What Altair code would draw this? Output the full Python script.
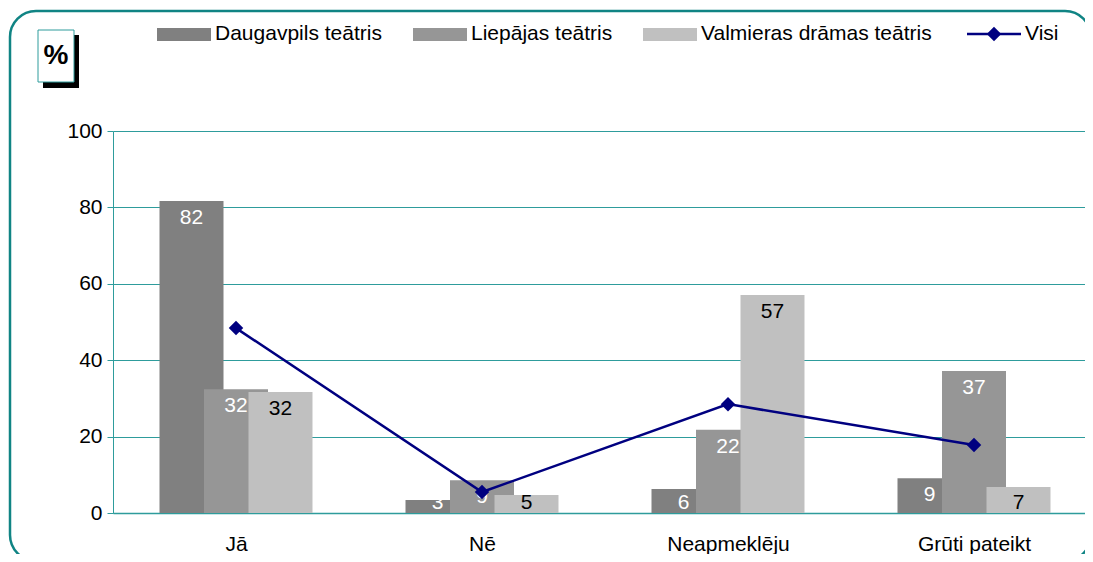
import altair as alt
import pandas as pd

categories = ["Jā", "Nē", "Neapmeklēju", "Grūti pateikt"]
series = ["Daugavpils teātris", "Liepājas teātris", "Valmieras drāmas teātris"]
daugavpils = [81.7, 3.4, 6.3, 9.1]
liepaja = [32.4, 8.6, 21.8, 37.2]
valmiera = [31.7, 4.7, 57.1, 6.8]
visi = [48.4, 5.5, 28.5, 17.8]
line_name = "Visi"
y_ticks = [0, 20, 40, 60, 80, 100]

bar_colors = ["#808080", "#969696", "#C0C0C0"]
label_colors = ["#FFFFFF", "#FFFFFF", "#000000"]
LINE = "#000080"
TEAL = "#2E9C9C"
FRAME = "#108484"
FONT = "Liberation Sans"
FS = 21

rows = []
for si, (name, vals) in enumerate(zip(series, [daugavpils, liepaja, valmiera])):
    for ci, (cat, v) in enumerate(zip(categories, vals)):
        rows.append({"category": cat, "ci": ci, "series": name, "si": si, "value": v})
bars_df = pd.DataFrame(rows)
line_df = pd.DataFrame({"category": categories, "ci": list(range(len(categories))), "value": visi})

BAND = 246.0
PLOT_W = 972
X_DOMAIN = [0, PLOT_W / BAND]
OFF = 44.5 / BAND
HALF = 32.0 / BAND

cat_js = "[" + ",".join("'" + c + "'" for c in categories) + "]"
x_axis = alt.Axis(values=[i + 0.5 for i in range(len(categories))],
                  labelExpr=cat_js + "[floor(datum.value)]",
                  ticks=False, grid=False, domainColor=TEAL, domainWidth=1.5,
                  labelFontSize=FS, labelFont=FONT, labelColor="#000", labelPadding=20, title=None)
x_scale = alt.Scale(domain=X_DOMAIN, nice=False, zero=False, padding=0)
y_scale = alt.Scale(domain=[0, 100], nice=False, padding=0)
y_axis = alt.Axis(values=y_ticks, grid=True, gridColor=TEAL, gridWidth=1, tickColor=TEAL, tickSize=6,
                  domainColor=TEAL, labelFontSize=FS, labelFont=FONT, labelColor="#000",
                  labelPadding=5, title=None)

base = alt.Chart(bars_df).transform_calculate(
    xs="datum.ci + 0.5 + (datum.si - 1) * %f - %f" % (OFF, HALF),
    xe="datum.ci + 0.5 + (datum.si - 1) * %f + %f" % (OFF, HALF),
    xc="datum.ci + 0.5 + (datum.si - 1) * %f" % OFF,
    ly="max(datum.value - 4.5, 2.5)",
)

bars = base.mark_bar(orient="vertical").encode(
    x=alt.X("xs:Q", scale=x_scale, axis=x_axis),
    x2="xe:Q",
    y=alt.Y("value:Q", scale=y_scale, axis=y_axis),
    y2=alt.datum(0),
    color=alt.Color("series:N", scale=alt.Scale(domain=series, range=bar_colors), legend=None),
)

labels = base.mark_text(font=FONT, fontSize=FS, baseline="middle", align="center").encode(
    x=alt.X("xc:Q", scale=x_scale),
    y=alt.Y("ly:Q", scale=y_scale),
    text=alt.Text("value:Q", format=".0f"),
    color=alt.Color("series:N", scale=alt.Scale(domain=series, range=label_colors), legend=None),
)

lc = alt.Chart(line_df).transform_calculate(xc="datum.ci + 0.5")
line = lc.mark_line(color=LINE, strokeWidth=2.5).encode(
    x=alt.X("xc:Q", scale=x_scale), y=alt.Y("value:Q", scale=y_scale))
pts = lc.mark_point(shape="diamond", filled=True, color=LINE, size=210, opacity=1).encode(
    x=alt.X("xc:Q", scale=x_scale), y=alt.Y("value:Q", scale=y_scale))

one = pd.DataFrame({"k": [0]})

frame = alt.Chart(one).mark_rect(fill=None, filled=False, stroke=FRAME, strokeWidth=2.5, cornerRadius=26).encode(
    x=alt.value(-103), x2=alt.value(978), y=alt.value(-120), y2=alt.value(430))

shadow = alt.Chart(one).mark_rect(color="#000000").encode(
    x=alt.value(-70), x2=alt.value(-34), y=alt.value(-96), y2=alt.value(-43))
box = alt.Chart(one).mark_rect(fill="#FFFFFF", stroke=TEAL, strokeWidth=1).encode(
    x=alt.value(-75), x2=alt.value(-39), y=alt.value(-101), y2=alt.value(-49))
pct = alt.Chart(one).mark_text(text="%", font=FONT, fontSize=28, fontWeight="bold",
                               align="center", baseline="middle", color="#000").encode(
    x=alt.value(-57), y=alt.value(-75))

legend_layers = []
sw_x = [44, 300, 530]
for name, col, x0 in zip(series, bar_colors, sw_x):
    legend_layers.append(alt.Chart(one).mark_rect(color=col).encode(
        x=alt.value(x0), x2=alt.value(x0 + 54), y=alt.value(-103), y2=alt.value(-90)))
    legend_layers.append(alt.Chart(one).mark_text(text=name, font=FONT, fontSize=FS, align="left",
                                                  baseline="alphabetic", color="#000").encode(
        x=alt.value(x0 + 58), y=alt.value(-91)))
legend_layers.append(alt.Chart(one).mark_rule(color=LINE, strokeWidth=2.5).encode(
    x=alt.value(854), x2=alt.value(908), y=alt.value(-97)))
legend_layers.append(alt.Chart(one).mark_point(shape="diamond", filled=True, color=LINE, size=210, opacity=1).encode(
    x=alt.value(881), y=alt.value(-97)))
legend_layers.append(alt.Chart(one).mark_text(text=line_name, font=FONT, fontSize=FS, align="left",
                                              baseline="alphabetic", color="#000").encode(
    x=alt.value(912), y=alt.value(-91)))

chart = alt.layer(
    bars, labels, line, pts, frame, shadow, box, pct, *legend_layers
).properties(
    width=PLOT_W, height=382,
    autosize=alt.AutoSizeParams(type="none"),
    padding={"left": 105, "top": 123, "right": 0, "bottom": 41},
).configure_view(stroke=None).resolve_scale(color="independent")

chart.save("out.html", embed_options={"renderer": "svg", "actions": False})
